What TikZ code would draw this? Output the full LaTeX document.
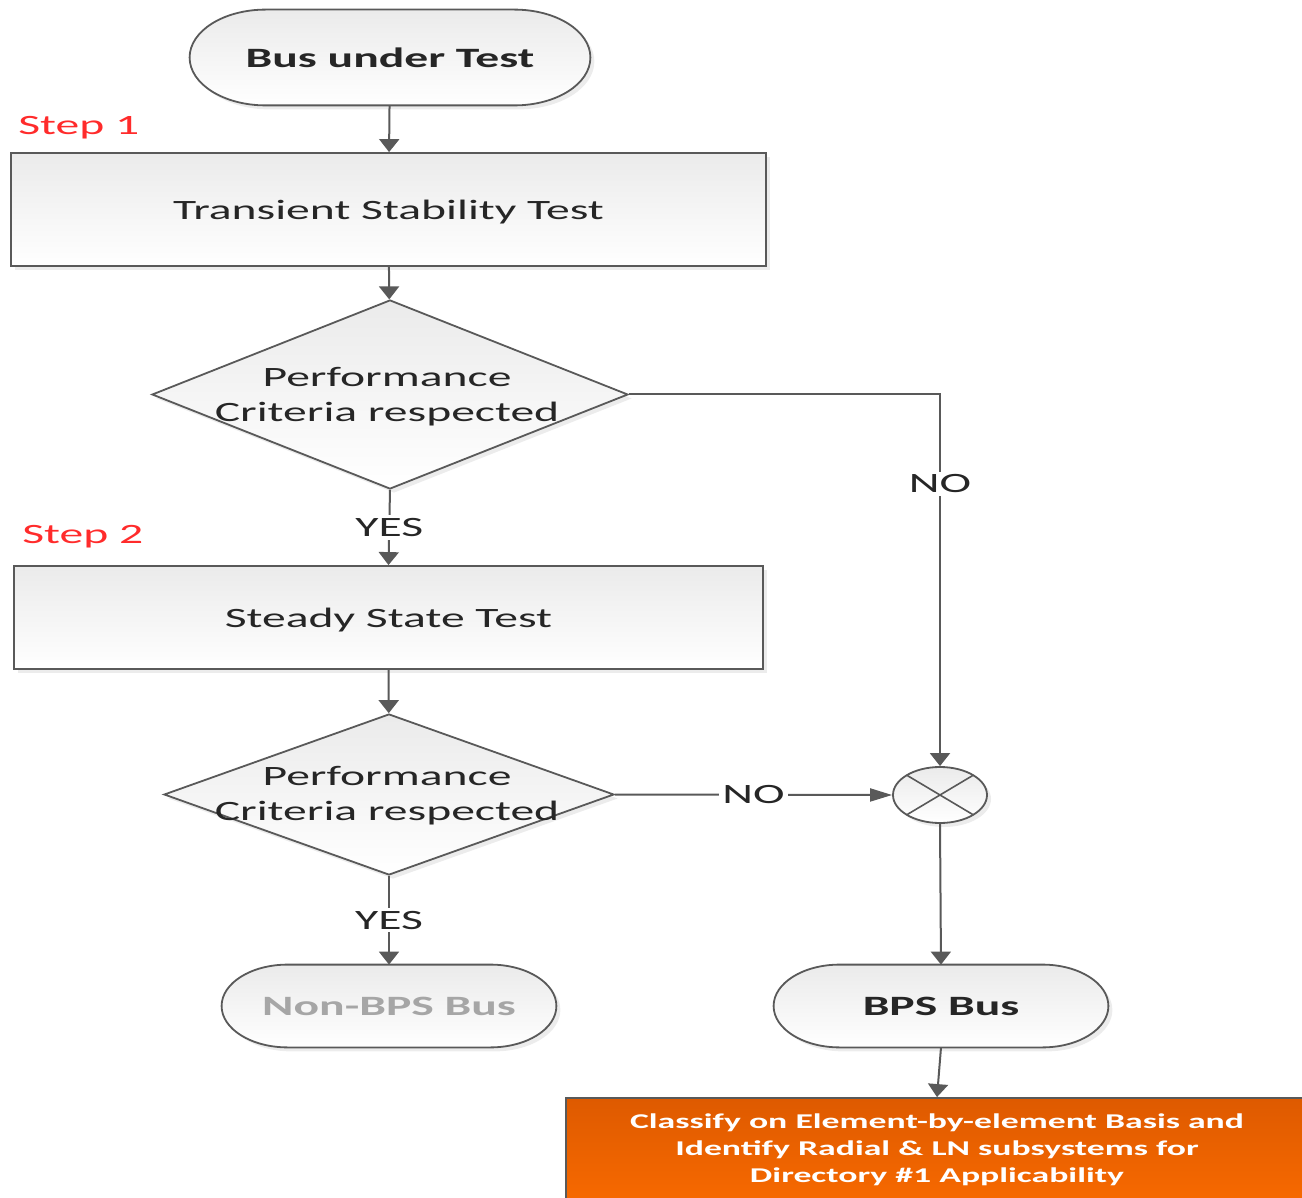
\documentclass[tikz,border=0pt]{standalone}
\usepackage{fontspec}
\setmainfont{Carlito}[FakeStretch=1.7]
\usetikzlibrary{shapes.geometric,arrows.meta,shadows,calc,backgrounds}

\definecolor{linegray}{HTML}{595959}
\definecolor{inkgray}{HTML}{262626}
\definecolor{steptext}{HTML}{FF2B2B}
\definecolor{paleink}{HTML}{A6A6A6}
\definecolor{orangetop}{HTML}{DE5A00}
\definecolor{orangebot}{HTML}{FA6B00}

% capsule outline drawn around a rectangular node, with elliptical ends
\newcommand\drawcapsule[2]{%
  \path[capsule] let \p1=(#1.north west), \p2=(#1.south east), \n1={(\y1-\y2)/2} in
    (\x1+#2,\y1) -- (\x2-#2,\y1)
    arc[start angle=90,end angle=-90,x radius=#2,y radius=\n1]
    -- (\x1+#2,\y2)
    arc[start angle=270,end angle=90,x radius=#2,y radius=\n1] -- cycle;}

\begin{document}
\begin{tikzpicture}[x=0.5pt,y=-0.5pt,
  basefont/.style={font=\fontsize{14}{17.5}\selectfont},
  softshade/.style={top color=black!8, bottom color=white},
  shadowed/.style={drop shadow={opacity=0.15, shadow xshift=2pt, shadow yshift=-2pt}},
  capsule/.style={draw=linegray, line width=0.9pt, softshade, shadowed},
  termnode/.style={rectangle, inner sep=0, basefont, text=inkgray},
  procbox/.style={rectangle, draw=linegray, line width=0.9pt, softshade, shadowed,
    inner sep=0, text depth=0pt, basefont, text=inkgray},
  decision/.style={diamond, draw=linegray, line width=0.9pt, softshade, shadowed, inner sep=0},
  dectext/.style={basefont, align=center, text=inkgray, inner sep=0},
  steplabel/.style={basefont, text=steptext, anchor=west, inner sep=0},
  junction/.style={ellipse, draw=linegray, line width=0.9pt, softshade, shadowed, inner sep=0,
    minimum width=47pt, minimum height=28pt,
    path picture={\draw[linegray, line width=0.8pt]
      (path picture bounding box.north west) -- (path picture bounding box.south east)
      (path picture bounding box.south west) -- (path picture bounding box.north east);}},
  edgelabel/.style={fill=white, inner sep=1.5pt, basefont, text=inkgray},
  link/.style={draw=linegray, line width=1pt},
  varr/.style={link, -{Triangle[length=6.5pt, width=10pt]}},
  harr/.style={link, -{Triangle[length=11pt, width=6.5pt]}},
]
\useasboundingbox (0,0) rectangle (1302,1198);

% terminals
\node[termnode, font=\fontsize{14}{17.5}\selectfont\bfseries, minimum width=200pt, minimum height=47.5pt]
  (start) at (390,57.5) {Bus under Test};
\node[termnode, text=paleink, font=\fontsize{14}{17.5}\selectfont\bfseries, minimum width=167pt, minimum height=41pt]
  (nonbps) at (389,1006) {Non-BPS Bus};
\node[termnode, font=\fontsize{14}{17.5}\selectfont\bfseries, minimum width=167pt, minimum height=41pt]
  (bps) at (941,1006) {BPS Bus};

% step captions
\node[steplabel] (step1) at (18,128) {Step 1};
\node[steplabel] (step2) at (22,537) {Step 2};

% process boxes
\node[procbox, minimum width=377.5pt, minimum height=56.5pt] (transient) at (388.5,209.5)
  {Transient Stability Test};
\node[procbox, minimum width=374.5pt, minimum height=51.5pt] (steady) at (388.5,617.5)
  {Steady State Test};

% decisions
\node[decision, minimum width=238pt, minimum height=94.5pt] (crit1) at (390,394.5) {};
\node[dectext] (crit1text) at (387,397) {Performance\\Criteria respected};
\node[decision, minimum width=225pt, minimum height=80.5pt] (crit2) at (389,794.5) {};
\node[dectext] (crit2text) at (387,796) {Performance\\Criteria respected};

% merge point
\node[junction] (merge) at (940,795) {};

% final action box
\node[rectangle, draw=linegray, line width=0.9pt, top color=orangetop, bottom color=orangebot,
  minimum width=371pt, minimum height=58.5pt, inner sep=0] (classify) at (937,1156.5) {};
\node[font=\fontsize{10.5}{13.5}\selectfont\bfseries, text=white, align=center, inner sep=0]
  (classifytext) at (937,1150)
  {Classify on Element-by-element Basis and\\Identify Radial \& LN subsystems for\\Directory \#1 Applicability};

% capsule outlines behind the terminal texts
\begin{scope}[on background layer]
  \drawcapsule{start}{38pt}
  \drawcapsule{nonbps}{33pt}
  \drawcapsule{bps}{33pt}
\end{scope}

% connectors
\draw[varr] (start) -- (transient);
\draw[varr] (transient) -- (crit1);
\draw[varr] (crit1.east) -| node[edgelabel, pos=0.62] (no1) {NO} (merge.north);
\draw[varr] (crit1.south) -- node[edgelabel] (yes1) {YES} (steady.north);
\draw[varr] (steady) -- (crit2);
\draw[harr] (crit2.east) -- node[edgelabel] (no2) {NO} (merge.west);
\draw[varr] (crit2.south) -- node[edgelabel] (yes2) {YES} (nonbps.north);
\draw[varr] (merge.south) -- (bps.north);
\draw[varr] (bps.south) -- (classify.north);
\end{tikzpicture}
\end{document}
